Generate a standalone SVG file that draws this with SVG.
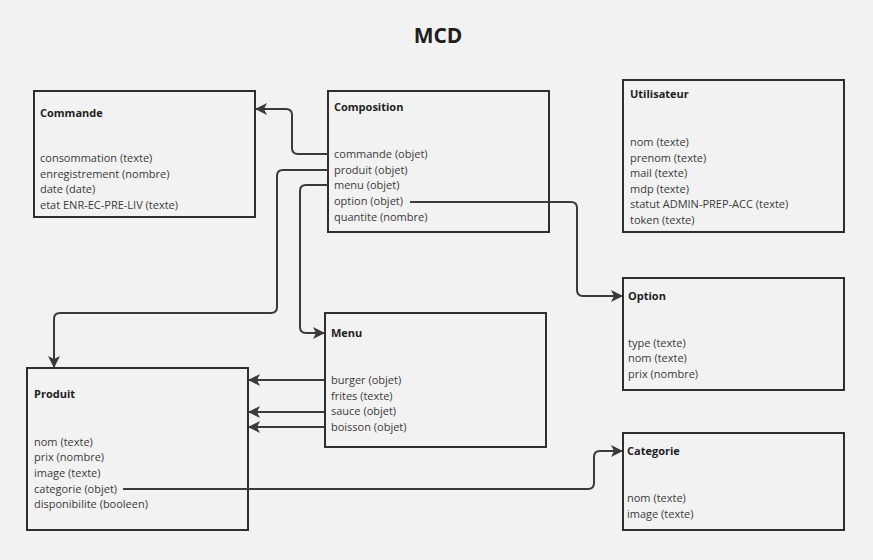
<svg xmlns="http://www.w3.org/2000/svg" width="873" height="560" viewBox="0 0 873 560">
<style>
.box{fill:#f2f2f2;stroke:#2e2e2e;stroke-width:2}
.t{font-family:"Open Sans","Noto Sans",sans-serif;font-size:11px;fill:#3a3a3a}
.h{font-family:"Open Sans","Noto Sans",sans-serif;font-size:11px;font-weight:bold;fill:#1e1e1e}
.c{fill:none;stroke:#3a3a3a;stroke-width:2;stroke-linejoin:round}
</style>
<defs>
<marker id="arr" viewBox="0 0 12 12" refX="11" refY="6" markerWidth="12" markerHeight="12" markerUnits="userSpaceOnUse" orient="auto">
<path d="M0,0 L12,6 L0,12 L3,6 Z" fill="#3a3a3a"/>
</marker>
</defs>
<rect width="873" height="560" fill="#f2f2f2"/>
<text x="438" y="43" text-anchor="middle" style="font-family:'Open Sans','Noto Sans',sans-serif;font-size:21px;font-weight:bold;fill:#1e1e1e">MCD</text>

<g id="commande">
<rect class="box" x="34" y="91" width="221" height="126"/>
<text class="h" x="40" y="117">Commande</text>
<text class="t" x="40" y="162">consommation (texte)</text>
<text class="t" x="40" y="178">enregistrement (nombre)</text>
<text class="t" x="40" y="193">date (date)</text>
<text class="t" x="40" y="209">etat ENR-EC-PRE-LIV (texte)</text>
</g>

<g id="composition">
<rect class="box" x="328" y="91" width="221" height="141"/>
<text class="h" x="334" y="111">Composition</text>
<text class="t" x="334" y="158">commande (objet)</text>
<text class="t" x="334" y="174">produit (objet)</text>
<text class="t" x="334" y="189">menu (objet)</text>
<text class="t" x="334" y="205">option (objet)</text>
<text class="t" x="334" y="221">quantite (nombre)</text>
</g>

<g id="utilisateur">
<rect class="box" x="623" y="80" width="221" height="152"/>
<text class="h" x="630" y="98">Utilisateur</text>
<text class="t" x="630" y="146">nom (texte)</text>
<text class="t" x="630" y="162">prenom (texte)</text>
<text class="t" x="630" y="177">mail (texte)</text>
<text class="t" x="630" y="193">mdp (texte)</text>
<text class="t" x="630" y="208">statut ADMIN-PREP-ACC (texte)</text>
<text class="t" x="630" y="224">token (texte)</text>
</g>

<g id="option">
<rect class="box" x="623" y="278" width="221" height="112"/>
<text class="h" x="628" y="300">Option</text>
<text class="t" x="628" y="347">type (texte)</text>
<text class="t" x="628" y="362">nom (texte)</text>
<text class="t" x="628" y="378">prix (nombre)</text>
</g>

<g id="menu">
<rect class="box" x="325" y="313" width="221" height="134"/>
<text class="h" x="331" y="337">Menu</text>
<text class="t" x="331" y="384">burger (objet)</text>
<text class="t" x="331" y="400">frites (texte)</text>
<text class="t" x="331" y="415">sauce (objet)</text>
<text class="t" x="331" y="431">boisson (objet)</text>
</g>

<g id="produit">
<rect class="box" x="27" y="368" width="221" height="162"/>
<text class="h" x="34" y="398">Produit</text>
<text class="t" x="34" y="446">nom (texte)</text>
<text class="t" x="34" y="461">prix (nombre)</text>
<text class="t" x="34" y="477">image (texte)</text>
<text class="t" x="34" y="493">categorie (objet)</text>
<text class="t" x="34" y="508">disponibilite (booleen)</text>
</g>

<g id="categorie">
<rect class="box" x="623" y="433" width="221" height="97"/>
<text class="h" x="627" y="455">Categorie</text>
<text class="t" x="627" y="502">nom (texte)</text>
<text class="t" x="627" y="518">image (texte)</text>
</g>

<g id="connectors">
<path class="c" d="M328,154 H298 Q292,154 292,148 V115 Q292,109 286,109 H256" marker-end="url(#arr)"/>
<path class="c" d="M328,170 H283 Q277,170 277,176 V307 Q277,313 271,313 H60 Q54,313 54,319 V367" marker-end="url(#arr)"/>
<path class="c" d="M328,185 H306 Q300,185 300,191 V327 Q300,333 306,333 H324" marker-end="url(#arr)"/>
<path class="c" d="M410,202 H571 Q577,202 577,208 V290 Q577,296 583,296 H622" marker-end="url(#arr)"/>
<path class="c" d="M325,380 H249" marker-end="url(#arr)"/>
<path class="c" d="M325,412 H249" marker-end="url(#arr)"/>
<path class="c" d="M325,427 H249" marker-end="url(#arr)"/>
<path class="c" d="M123,489 H588 Q594,489 594,483 V457 Q594,451 600,451 H622" marker-end="url(#arr)"/>
</g>
</svg>
